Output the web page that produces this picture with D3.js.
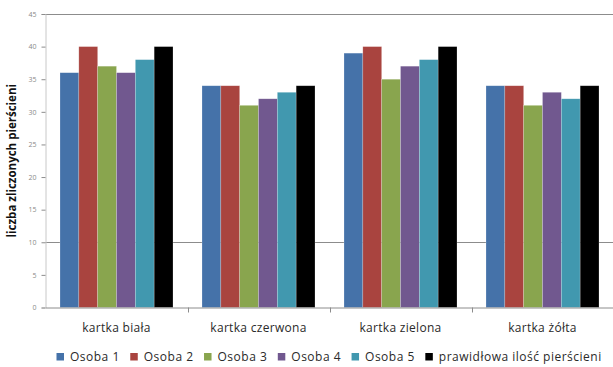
<!DOCTYPE html>
<html>
<head>
<meta charset="utf-8">
<script src="https://cdn.jsdelivr.net/npm/d3@7/dist/d3.min.js"></script>
<style>
  html, body { margin: 0; padding: 0; background: #fff; }
  svg { display: block; }
</style>
</head>
<body>
<svg id="chart" width="613" height="367"></svg>
<script>
// Counted rings per card colour, for each person and the correct count
const categories = ["kartka biała", "kartka czerwona", "kartka zielona", "kartka żółta"];
const seriesNames = ["Osoba 1", "Osoba 2", "Osoba 3", "Osoba 4", "Osoba 5", "prawidłowa ilość pierścieni"];
const osoba1 = [36, 34, 39, 34];
const osoba2 = [40, 34, 40, 34];
const osoba3 = [37, 31, 35, 31];
const osoba4 = [36, 32, 37, 33];
const osoba5 = [38, 33, 38, 32];
const prawidlowa = [40, 34, 40, 34];
const yTicks = [0, 5, 10, 15, 20, 25, 30, 35, 40, 45];
const gridValues = [10, 45];
const colors = ["#4572a9", "#a9443f", "#89a54e", "#71588f", "#4198af", "#000000"];

const series = [osoba1, osoba2, osoba3, osoba4, osoba5, prawidlowa];

const svg = d3.select("#chart");
const plot = { left: 45.5, right: 613.5, top: 14, bottom: 307.5 };

const x = d3.scaleBand().domain(categories).range([plot.left, plot.right]).paddingInner(0).paddingOuter(0);
const inner = d3.scaleBand().domain(d3.range(seriesNames.length))
  .range([0, x.bandwidth()]).paddingOuter(0.77).paddingInner(0);
const y = d3.scaleLinear().domain([0, 45]).range([plot.bottom, plot.top]);

// gridlines
svg.append("g").selectAll("line").data(gridValues).join("line")
  .attr("x1", plot.left).attr("x2", plot.right)
  .attr("y1", d => Math.round(y(d)) + 0.5).attr("y2", d => Math.round(y(d)) + 0.5)
  .attr("stroke", "#8c8c8c").attr("stroke-width", 1);

// bars
const groups = svg.append("g").selectAll("g").data(categories).join("g")
  .attr("transform", d => `translate(${x(d)},0)`);
groups.selectAll("rect")
  .data((c, ci) => series.map((s, si) => ({ si, v: s[ci] })))
  .join("rect")
  .attr("x", d => inner(d.si))
  .attr("width", inner.bandwidth())
  .attr("y", d => y(d.v))
  .attr("height", d => y(0) - y(d.v))
  .attr("fill", d => colors[d.si])
  .attr("stroke", "rgba(255,255,255,0.35)")
  .attr("stroke-width", 0.6);

// y axis
const yAxis = d3.axisLeft(y).tickValues(yTicks).tickSize(4).tickPadding(5);
const yg = svg.append("g").attr("transform", `translate(${plot.left},0)`).call(yAxis);
yg.select(".domain").attr("stroke", "#c8c8c8");
yg.selectAll(".tick line").attr("stroke", "#8c8c8c");
yg.selectAll(".tick text").attr("fill", "#8a8a8a").attr("font-size", 7)
  .attr("font-family", "'Open Sans', sans-serif");

// x axis
const xAxis = d3.axisBottom(x).tickSize(0).tickFormat(() => "");
const xg = svg.append("g").attr("transform", `translate(0,${plot.bottom})`).call(xAxis);
xg.select(".domain").attr("stroke", "#8c8c8c");
xg.selectAll(".tick").remove();
const bounds = categories.map(c => x(c)).slice(1);
xg.selectAll("line.sep").data(bounds).join("line").attr("class", "sep")
  .attr("x1", d => Math.round(d) + 0.5).attr("x2", d => Math.round(d) + 0.5)
  .attr("y1", 0).attr("y2", 5).attr("stroke", "#8c8c8c");

// category labels
svg.append("g").selectAll("text").data(categories).join("text")
  .attr("x", d => x(d) + x.bandwidth() / 2)
  .attr("y", 332)
  .attr("text-anchor", "middle")
  .attr("font-family", "'Open Sans', sans-serif")
  .attr("font-size", 12)
  .attr("letter-spacing", 0.3)
  .attr("fill", "#2a2a2a")
  .text(d => d);

// y axis title
svg.append("text")
  .attr("transform", `translate(16,${(plot.top + plot.bottom) / 2}) rotate(-90)`)
  .attr("text-anchor", "middle")
  .attr("font-family", "'Open Sans', sans-serif")
  .attr("font-weight", "bold")
  .attr("font-size", 11.5)
  .attr("fill", "#111")
  .text("liczba zliczonych pierścieni");

// legend
const legend = svg.append("g").attr("transform", "translate(56.5,361)");
let lx = 0;
seriesNames.forEach((name, i) => {
  const item = legend.append("g").attr("transform", `translate(${lx},0)`);
  item.append("rect").attr("x", 0).attr("y", -8).attr("width", 7.5).attr("height", 7.5).attr("fill", colors[i]);
  const t = item.append("text").attr("x", 13.5).attr("y", 0)
    .attr("font-family", "'Open Sans', sans-serif").attr("font-size", 12)
    .attr("letter-spacing", 0.5)
    .attr("fill", "#2a2a2a").text(name);
  lx += 13.5 + t.node().getComputedTextLength() + 10.5;
});
</script>
</body>
</html>
